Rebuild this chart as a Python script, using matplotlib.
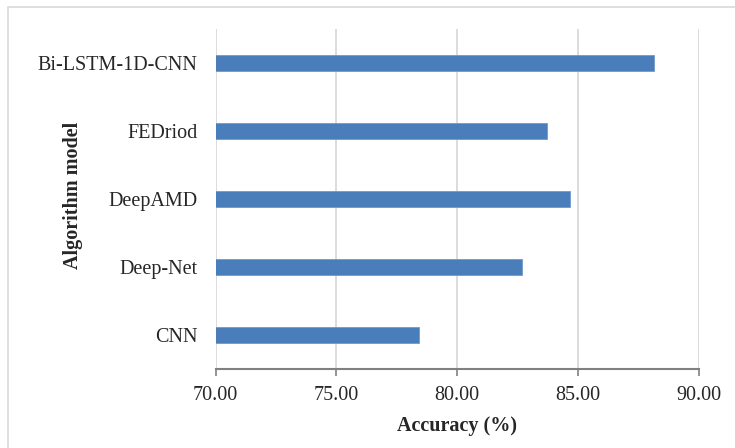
import matplotlib
matplotlib.use("Agg")
import matplotlib.pyplot as plt
from matplotlib.patches import Rectangle

# values
models = ["CNN", "Deep-Net", "DeepAMD", "FEDriod", "Bi-LSTM-1D-CNN"]
accuracy = [78.40, 82.67, 84.68, 83.71, 88.14]
x_ticks = [70, 75, 80, 85, 90]

plt.rcParams["font.family"] = ["Liberation Serif", "DejaVu Serif"]

fig = plt.figure(figsize=(7.35, 4.48), dpi=100)
ax = fig.add_axes([0.2933, 0.1763, 0.6577, 0.759])

# light frame around the chart area
fig.patches.append(Rectangle((0.011, -0.1), 1.2, 1.084, transform=fig.transFigure,
                             fill=False, edgecolor="#d9d9d9", linewidth=1.2))

ax.barh(range(len(models)), accuracy, left=0, height=0.24, color="#4a7ebb",
        edgecolor="#6f9bd0", linewidth=0.6, zorder=3)

ax.set_xlim(70, 90)
ax.set_ylim(-0.5, len(models) - 0.5)
ax.set_xticks(x_ticks)
ax.set_xticklabels([f"{t:.2f}" for t in x_ticks], fontsize=14.5, color="#262626")
ax.set_yticks(range(len(models)))
ax.set_yticklabels(models, fontsize=14.5, color="#262626")

ax.grid(axis="x", color="#d9d9d9", linewidth=1.3, zorder=0)
for side in ["top", "right", "left"]:
    ax.spines[side].set_visible(False)
ax.spines["bottom"].set_color("#808080")
ax.spines["bottom"].set_linewidth(1.5)
ax.spines["bottom"].set_zorder(4)

ax.tick_params(axis="x", length=5, width=1.2, color="#808080", pad=7)
ax.tick_params(axis="y", length=0, pad=13)

ax.set_xlabel("Accuracy (%)", fontsize=14.5, fontweight="bold", labelpad=8, color="#262626")
ax.set_ylabel("Algorithm model", fontsize=14.5, fontweight="bold", color="#262626")
ax.yaxis.set_label_coords(-0.275, 0.51)

fig.savefig("out.png", dpi=100)
